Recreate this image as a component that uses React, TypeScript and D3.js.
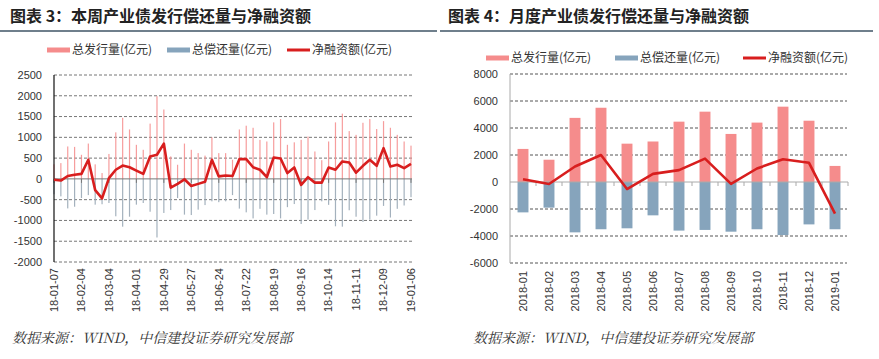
import * as React from 'react';
import * as d3 from 'd3';

// weekly chart (left)
const weekTicks = ['18-01-07', '18-02-04', '18-03-04', '18-04-01', '18-04-29', '18-05-27', '18-06-24',
  '18-07-22', '18-08-19', '18-09-16', '18-10-14', '18-11-11', '18-12-09', '19-01-06'];
const weekIssue = [350, 380, 780, 770, 580, 850, 350, 140, 600, 1120, 1470, 1190, 820, 700, 1330, 1990, 1670,
  540, 340, 850, 700, 620, 560, 1000, 620, 620, 460, 1190, 1280, 1230, 940, 900, 1360, 1440, 820, 880, 940,
  1020, 660, 450, 900, 1360, 1570, 1150, 1060, 1350, 1440, 1200, 1390, 1230, 1060, 900, 800];
const weekRepay = [370, 420, 710, 670, 460, 390, 620, 610, 580, 900, 1150, 910, 620, 580, 790, 1410, 820,
  750, 460, 860, 870, 740, 630, 540, 560, 540, 390, 715, 805, 950, 720, 860, 845, 950, 680, 605, 1085,
  980, 750, 540, 625, 1140, 1150, 755, 910, 1035, 980, 885, 650, 930, 720, 640, 440];
const weekNet = [-20, -40, 70, 100, 120, 460, -270, -470, 20, 220, 320, 280, 200, 120, 540, 580, 850,
  -210, -120, -10, -170, -120, -70, 460, 60, 80, 70, 475, 475, 280, 220, 40, 515, 490, 140, 275, -145,
  40, -90, -90, 275, 220, 420, 395, 150, 315, 460, 315, 740, 300, 340, 260, 360];
const weekYTicks = [2500, 2000, 1500, 1000, 500, 0, -500, -1000, -1500, -2000];

// monthly chart (right)
const months = ['2018-01', '2018-02', '2018-03', '2018-04', '2018-05', '2018-06', '2018-07',
  '2018-08', '2018-09', '2018-10', '2018-11', '2018-12', '2019-01'];
const monthIssue = [2450, 1650, 4750, 5500, 2840, 3000, 4470, 5210, 3560, 4400, 5580, 4540, 1190];
const monthRepay = [2250, 1900, 3730, 3500, 3430, 2470, 3600, 3550, 3680, 3500, 3930, 3140, 3500];
const monthNet = [200, -150, 1150, 2000, -520, 600, 880, 1730, -140, 1000, 1680, 1420, -2340];
const monthYTicks = [8000, 6000, 4000, 2000, 0, -2000, -4000, -6000];

const PINK = '#f58c8c';
const BLUE = '#86a4bc';
const RED = '#d81e1e';
const CJK = '"Noto Sans CJK SC", sans-serif';
const NUM = '"Liberation Sans", Arial, sans-serif';
const legendNames = ['总发行量(亿元)', '总偿还量(亿元)', '净融资额(亿元)'];

function Legend({ x0, y, gaps }: { x0: number; y: number; gaps: number[] }) {
  const colors = [PINK, BLUE, RED];
  return (
    <g>
      {legendNames.map((n, i) => (
        <g key={n} transform={`translate(${x0 + gaps[i]},${y})`}>
          <line x1={0} x2={23} y1={0} y2={0} stroke={colors[i]} strokeWidth={i === 2 ? 3 : 5} />
          <text x={25} y={0} dy="0.35em" fontSize={12} fontFamily={CJK} fill="#333">{n}</text>
        </g>
      ))}
    </g>
  );
}

function WeeklyChart() {
  const x = d3.scaleLinear().domain([0, weekIssue.length - 1]).range([54, 411]);
  const y = d3.scaleLinear().domain([-2000, 2500]).range([262, 75]);
  const line = d3.line<number>().x((_, i) => x(i)).y(d => y(d));
  return (
    <g>
      <text x={10} y={22} fontSize={16} fontWeight="bold" fontFamily={CJK} fill="#222">图表 3：本周产业债发行偿还量与净融资额</text>
      <line x1={0} x2={437} y1={31} y2={31} stroke="#3f5566" strokeWidth={1.5} />
      <Legend x0={47} y={50} gaps={[0, 120, 240]} />
      {weekYTicks.filter(t => t !== 0).map(t => (
        <line key={t} x1={54} x2={412} y1={y(t)} y2={y(t)} stroke="#777" strokeDasharray="3,2" strokeWidth={1} />
      ))}
      {weekYTicks.map(t => (
        <text key={t} x={42} y={y(t)} dy="0.35em" textAnchor="end" fontSize={11} fontFamily={NUM} fill="#333">{t}</text>
      ))}
      {weekIssue.map((v, i) => (
        <rect key={'i' + i} x={x(i) - 0.6} width={1.2} y={y(v)} height={y(0) - y(v)} fill={PINK} opacity={0.85} />
      ))}
      {weekRepay.map((v, i) => (
        <rect key={'r' + i} x={x(i) - 0.6} width={1.2} y={y(0)} height={y(-v) - y(0)} fill="#9aa9b6" opacity={0.9} />
      ))}
      <line x1={54} x2={412} y1={y(0)} y2={y(0)} stroke="#777" strokeWidth={1} />
      {weekTicks.map((t, k) => (
        <g key={t}>
          <line x1={x(k * 4)} x2={x(k * 4)} y1={y(0)} y2={y(0) + 4} stroke="#777" />
          <text transform={`translate(${x(k * 4)},268) rotate(-90)`} dy="0.35em" textAnchor="end" fontSize={11} fontFamily={NUM} fill="#333">{t}</text>
        </g>
      ))}
      <line x1={54} x2={54} y1={75} y2={262} stroke="#111" strokeWidth={1.2} />
      <path d={line(weekNet) || ''} fill="none" stroke={RED} strokeWidth={2.6} strokeLinejoin="round" />
      <text x={12} y={343} fontSize={14} fontStyle="italic" fontFamily={'"Noto Serif CJK SC", serif'} fill="#333">数据来源：WIND，中信建投证券研究发展部</text>
    </g>
  );
}

function MonthlyChart() {
  const x = d3.scaleBand().domain(months).range([510, 848]).paddingInner(0.58).paddingOuter(0.29);
  const y = d3.scaleLinear().domain([-6000, 8000]).range([263, 74]);
  const cx = (m: string) => (x(m) || 0) + x.bandwidth() / 2;
  const line = d3.line<number>().x((_, i) => cx(months[i])).y(d => y(d));
  const step = x.step();
  return (
    <g>
      <text x={448} y={22} fontSize={16} fontWeight="bold" fontFamily={CJK} fill="#222">图表 4：月度产业债发行偿还量与净融资额</text>
      <line x1={440} x2={873} y1={31} y2={31} stroke="#3f5566" strokeWidth={1.5} />
      <Legend x0={486} y={58} gaps={[0, 129, 257]} />
      {monthYTicks.filter(t => t !== 0).map(t => (
        <line key={t} x1={510} x2={847} y1={y(t)} y2={y(t)} stroke="#555" strokeDasharray="3,2" strokeWidth={1} />
      ))}
      {monthYTicks.map(t => (
        <text key={t} x={498} y={y(t)} dy="0.35em" textAnchor="end" fontSize={11} fontFamily={NUM} fill="#333">{t}</text>
      ))}
      {months.map((m, i) => (
        <g key={m}>
          <rect x={x(m)} width={x.bandwidth()} y={y(monthIssue[i])} height={y(0) - y(monthIssue[i])} fill={PINK} />
          <rect x={x(m)} width={x.bandwidth()} y={y(0)} height={y(-monthRepay[i]) - y(0)} fill={BLUE} />
        </g>
      ))}
      <line x1={510} x2={848} y1={y(0)} y2={y(0)} stroke="#aaa" strokeWidth={1} />
      {months.map((m, i) => (
        <g key={'t' + m}>
          <line x1={510 + step * (i + 1)} x2={510 + step * (i + 1)} y1={y(0)} y2={y(0) + 4} stroke="#aaa" />
          <text transform={`translate(${cx(m)},271) rotate(-90)`} dy="0.35em" textAnchor="end" fontSize={11} fontFamily={NUM} fill="#333">{m}</text>
        </g>
      ))}
      <line x1={510} x2={510} y1={74} y2={263} stroke="#aaa" strokeWidth={1} />
      <path d={line(monthNet) || ''} fill="none" stroke={RED} strokeWidth={2.6} strokeLinejoin="round" />
      <text x={473} y={343} fontSize={14} fontStyle="italic" fontFamily={'"Noto Serif CJK SC", serif'} fill="#333">数据来源：WIND，中信建投证券研究发展部</text>
    </g>
  );
}

export default function App() {
  return (
    <svg width={879} height={359} style={{ position: 'absolute', left: 0, top: 0, background: '#fff' }}>
      <rect width={879} height={359} fill="#fff" />
      <WeeklyChart />
      <MonthlyChart />
    </svg>
  );
}
